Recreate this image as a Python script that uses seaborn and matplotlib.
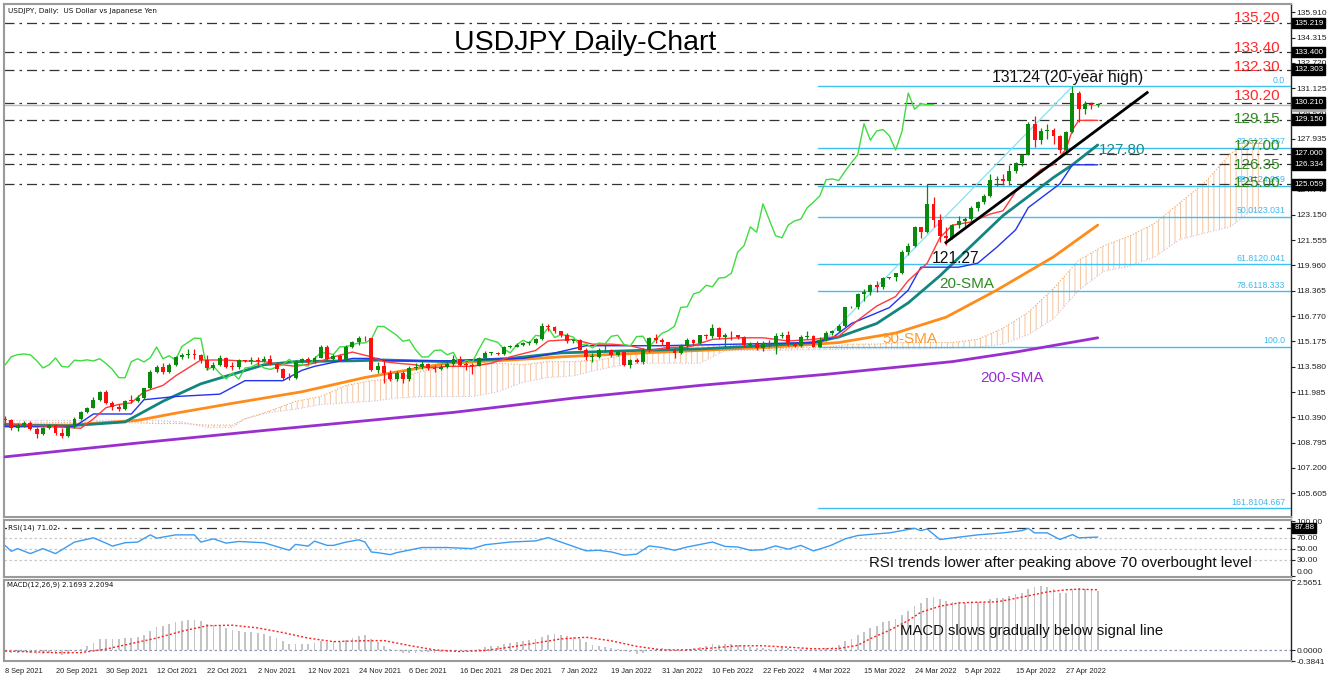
import numpy as np
import matplotlib
matplotlib.use("Agg")
import matplotlib.pyplot as plt
import seaborn as sns
from matplotlib.transforms import blended_transform_factory

# ---------------- data ----------------
x_labels = ["8 Sep 2021", "20 Sep 2021", "30 Sep 2021", "12 Oct 2021", "22 Oct 2021", "2 Nov 2021",
            "12 Nov 2021", "24 Nov 2021", "6 Dec 2021", "16 Dec 2021", "28 Dec 2021", "7 Jan 2022",
            "19 Jan 2022", "31 Jan 2022", "10 Feb 2022", "22 Feb 2022", "4 Mar 2022", "15 Mar 2022",
            "24 Mar 2022", "5 Apr 2022", "15 Apr 2022", "27 Apr 2022"]

opens = [
110.30,110.25,109.70,109.88,110.02,109.68,109.37,109.71,109.93,109.41,
109.22,109.79,110.27,110.73,110.99,111.50,111.96,111.28,111.05,110.92,
111.44,111.42,111.60,112.23,113.27,113.59,113.26,113.68,114.21,114.34,
114.38,114.33,113.97,113.50,113.70,114.13,113.59,113.56,113.99,113.95,
114.01,113.94,114.08,113.78,113.41,112.89,112.88,113.90,114.08,113.88,
114.14,114.82,114.08,114.27,114.00,114.85,115.12,115.38,115.36,113.38,
113.61,113.16,112.81,113.18,112.79,113.50,113.56,113.77,113.50,113.41,
113.56,113.72,114.04,113.71,113.69,113.62,114.10,114.45,114.45,114.35,
114.83,114.84,114.97,115.07,115.08,115.31,116.12,116.11,115.84,115.56,
115.18,115.27,114.65,114.19,114.20,114.60,114.63,114.33,114.48,113.67,
113.98,113.88,114.65,115.36,115.23,115.12,114.68,114.45,114.95,115.24,
115.07,115.55,115.51,116.04,115.42,115.58,115.56,115.44,114.93,115.02,
114.77,115.07,115.03,115.50,115.56,114.98,114.89,115.48,115.50,114.83,
115.28,115.68,115.85,116.13,117.32,117.35,118.16,118.29,118.71,118.61,
119.16,119.20,119.47,120.80,121.20,122.39,122.05,123.84,122.83,121.83,
121.70,122.50,122.76,122.88,123.59,123.95,124.34,125.36,125.41,125.31,
125.90,126.43,126.93,128.89,127.85,128.43,128.52,128.14,127.23,128.39,
130.82,129.80,130.15,130.09]
highs = [
110.45,110.30,110.05,110.15,110.15,109.80,109.80,110.00,109.95,109.70,
109.90,110.40,110.80,111.05,111.70,112.05,112.08,111.40,111.20,111.50,
111.80,111.80,112.25,113.40,113.70,113.80,113.80,114.25,114.45,114.70,
114.70,114.40,114.30,113.90,114.30,114.20,113.90,114.05,114.00,114.20,
114.20,114.25,114.30,113.90,113.50,113.20,114.00,114.15,114.20,114.25,
114.95,114.95,114.40,114.40,114.95,115.20,115.52,115.50,115.40,113.90,
114.05,113.40,113.30,113.30,113.60,113.80,113.95,113.80,113.70,113.75,
113.90,114.30,114.25,113.90,113.80,114.20,114.55,114.50,114.50,114.90,
114.95,115.05,115.15,115.20,115.40,116.35,116.25,116.15,115.85,115.70,
115.35,115.35,114.75,114.45,114.75,114.95,114.70,114.65,114.50,114.05,
114.10,114.75,115.45,115.65,115.40,115.15,114.75,115.00,115.40,115.35,
115.60,115.65,116.30,116.05,115.70,115.80,115.60,115.50,115.15,115.20,
115.20,115.25,115.70,115.75,115.80,115.05,115.55,115.80,115.55,115.45,
115.80,115.90,116.25,117.35,117.40,118.20,118.45,118.80,119.00,119.20,
119.25,119.50,120.95,121.40,122.45,122.40,125.08,124.30,123.20,122.40,
122.60,123.05,123.00,123.70,124.05,124.45,125.75,125.60,125.75,126.30,
126.50,127.00,129.00,129.40,128.60,128.85,128.60,128.20,128.45,131.24,
130.95,130.30,130.25,130.20]
lows = [
109.90,109.60,109.55,109.80,109.60,109.10,109.30,109.65,109.30,109.10,
109.15,109.70,110.20,110.65,110.95,111.40,111.20,110.85,110.80,110.85,
111.30,111.35,111.55,112.20,113.20,113.10,113.20,113.60,114.05,114.15,
114.05,113.80,113.40,113.40,113.60,113.50,113.35,113.45,113.90,113.75,
113.70,113.85,113.70,113.25,112.75,112.75,112.80,113.80,113.75,113.80,
114.10,114.00,113.90,113.95,113.95,114.75,114.95,115.20,113.30,113.20,
112.55,112.70,112.65,112.55,112.70,113.40,113.45,113.40,113.25,113.35,
113.50,113.60,113.60,113.40,113.15,113.60,114.05,114.30,114.30,114.30,
114.75,114.80,114.90,114.95,115.00,115.25,115.85,115.70,115.45,115.05,
115.05,114.60,114.00,113.90,114.15,114.50,114.20,114.25,113.65,113.50,
113.80,113.75,114.50,115.05,114.95,114.60,114.15,114.40,114.85,114.90,
115.00,115.35,115.40,115.30,114.85,115.25,115.30,114.85,114.80,114.65,
114.55,114.85,114.40,115.40,114.90,114.80,114.85,115.35,114.82,114.85,
115.20,115.55,115.75,116.05,117.25,117.20,117.70,118.10,118.30,118.50,
119.10,118.95,119.40,120.60,121.15,121.70,122.00,122.40,121.45,121.27,
121.60,122.30,122.45,122.60,123.40,123.80,124.25,124.95,125.00,125.05,
125.80,126.25,126.90,127.45,127.60,127.90,127.60,127.05,126.95,128.30,
129.00,129.50,129.80,129.95]
closes = [
110.25,109.70,109.88,110.02,109.68,109.37,109.71,109.93,109.41,109.22,
109.79,110.27,110.73,110.99,111.50,111.96,111.28,111.05,110.92,111.44,
111.42,111.60,112.23,113.27,113.59,113.26,113.68,114.21,114.34,114.38,
114.33,113.97,113.50,113.70,114.13,113.59,113.56,113.99,113.95,114.01,
113.94,114.08,113.78,113.41,112.89,112.88,113.90,114.08,113.88,114.14,
114.82,114.08,114.27,114.00,114.85,115.12,115.38,115.36,113.38,113.61,
113.16,112.81,113.18,112.79,113.50,113.56,113.77,113.50,113.41,113.56,
113.72,114.04,113.71,113.69,113.62,114.10,114.45,114.45,114.35,114.83,
114.84,114.97,115.07,115.08,115.31,116.12,116.11,115.84,115.56,115.18,
115.27,114.65,114.19,114.20,114.60,114.63,114.33,114.48,113.67,113.98,
113.88,114.65,115.36,115.23,115.12,114.68,114.45,114.95,115.24,115.07,
115.55,115.51,116.04,115.42,115.58,115.56,115.44,114.93,115.02,114.77,
115.07,115.03,115.50,115.56,114.98,114.89,115.48,115.50,114.83,115.28,
115.68,115.85,116.13,117.32,117.35,118.16,118.29,118.71,118.61,119.16,
119.20,119.47,120.80,121.20,122.39,122.05,123.84,122.83,121.83,121.70,
122.50,122.76,122.88,123.59,123.95,124.34,125.36,125.41,125.31,125.90,
126.43,126.93,128.89,127.85,128.43,128.52,128.14,127.23,128.39,130.82,
129.80,130.15,130.09,130.10]

# indicator lines (bar index, value)
sma20_x = [0, 10, 19, 25, 31, 36, 41, 46, 55, 60, 70, 80, 88, 100, 110, 120, 128, 132, 138, 143, 148, 153, 158, 163, 166, 169, 173]
sma20_y = [109.9, 109.85, 110.1, 111.4, 112.5, 113.1, 113.7, 113.9, 113.95, 114.0, 113.9, 114.1, 114.45, 114.6, 114.7, 114.9, 115.1, 115.45, 116.3, 117.6, 119.3, 121.2, 123.1, 124.6, 125.5, 126.3, 127.55]
sma50_x = [0, 10, 21, 27, 36, 47, 57, 70, 80, 88, 104, 121, 132, 141, 149, 157, 166, 173]
sma50_y = [109.9, 109.9, 110.2, 110.65, 111.27, 112.0, 112.9, 113.8, 114.0, 114.2, 114.5, 114.8, 115.1, 115.7, 116.7, 118.4, 120.5, 122.5]
sma200_x = [0, 21, 42, 63, 71, 90, 110, 130, 150, 160, 173]
sma200_y = [107.9, 108.77, 109.6, 110.4, 110.7, 111.6, 112.4, 113.1, 113.9, 114.5, 115.4]
tenkan_x = [0, 4, 8, 12, 14, 16, 18, 20, 22, 25, 27, 29, 31, 35, 37, 41, 44, 46, 49, 52, 55, 58, 60, 62, 65, 67, 70, 74, 77, 80, 84, 86, 90, 93, 96, 99, 102, 105, 108, 112, 116, 120, 124, 128, 132, 135, 138, 141, 143, 146, 148, 150, 153, 156, 158, 160, 162, 164, 166, 168, 169, 170, 173]
tenkan_y = [110.0, 109.9, 109.8, 109.7, 110.3, 111.0, 111.2, 111.3, 112.0, 112.4, 113.0, 113.5, 114.0, 114.0, 113.95, 113.9, 113.7, 113.6, 113.8, 114.2, 114.5, 114.2, 113.9, 113.8, 113.7, 113.5, 113.6, 113.6, 113.8, 114.2, 114.6, 115.2, 115.3, 115.0, 115.0, 114.9, 114.6, 114.8, 114.8, 115.3, 115.4, 115.4, 115.2, 115.3, 115.5, 116.5, 117.4, 118.0, 119.0, 120.1, 121.7, 122.5, 122.7, 123.2, 123.4, 124.6, 125.3, 126.0, 126.3, 127.3, 128.5, 129.1, 129.1]
kijun_x = [0, 11, 14, 20, 22, 27, 34, 38, 44, 47, 49, 55, 59, 60, 71, 76, 82, 86, 92, 104, 110, 122, 128, 131, 134, 137, 140, 143, 145, 151, 154, 157, 160, 162, 164, 167, 169, 173]
kijun_y = [109.8, 109.8, 110.6, 110.6, 111.5, 111.7, 111.85, 112.7, 112.7, 113.35, 113.6, 114.1, 114.1, 113.95, 113.95, 114.05, 114.1, 114.35, 114.9, 114.9, 114.95, 115.05, 115.1, 115.4, 116.3, 116.8, 117.3, 118.4, 119.85, 119.85, 120.1, 121.1, 122.2, 123.6, 124.2, 125.1, 126.3, 126.3]
cloud_x = [0, 8, 16, 24, 28, 32, 36, 38, 42, 46, 50, 54, 58, 62, 66, 70, 74, 78, 82, 86, 90, 94, 98, 102, 106, 110, 114, 118, 122, 126, 130, 134, 138, 142, 146, 150, 154, 158, 162, 166, 170, 174, 178, 182, 186, 190, 194, 197, 199]
span_a = [110.0, 110.05, 110.1, 110.0, 110.0, 109.9, 109.9, 110.3, 110.8, 111.4, 111.7, 112.4, 112.7, 112.8, 113.3, 113.6, 113.7, 113.8, 113.7, 113.9, 113.9, 114.0, 114.3, 114.5, 114.8, 114.9, 115.0, 114.8, 114.7, 114.8, 114.8, 115.0, 115.0, 115.1, 115.1, 115.1, 115.3, 116.0, 117.0, 118.5, 120.3, 121.2, 121.8, 122.6, 123.9, 125.2, 127.0, 127.7, 127.7]
span_b = [110.2, 110.2, 110.2, 110.2, 110.1, 109.75, 109.75, 110.3, 110.7, 110.9, 111.2, 111.3, 111.4, 111.6, 111.7, 111.7, 111.7, 112.0, 112.6, 112.9, 113.0, 113.4, 113.7, 113.8, 113.8, 113.8, 114.6, 114.6, 114.6, 114.65, 114.65, 114.7, 114.7, 114.7, 114.7, 114.75, 114.8, 115.0, 115.6, 116.6, 118.4, 119.6, 119.9, 120.5, 121.6, 122.0, 122.4, 123.3, 123.4]

rsi_x = [0, 1, 2, 4, 6, 8, 11, 14, 16, 17, 19, 21, 23, 24, 27, 30, 31, 33, 35, 37, 41, 45, 46, 48, 49, 51, 52, 54, 56, 57, 58, 59, 61, 62,
         63, 66, 70, 74, 76, 80, 84, 86, 88, 92, 94, 96, 98, 100, 102, 104, 106, 108, 112, 114, 116, 118, 120, 122, 124,
         126, 128, 130, 131, 133, 135, 138, 140, 142, 144, 145, 146, 148, 151, 154, 158, 161, 162, 163, 165, 167, 169, 170, 173]
rsi_y = [55.9, 45.2, 50, 41, 50, 41, 61.9, 69.6, 60, 54.6, 60.7, 61.9, 75, 68.9, 75, 75, 61.9, 67.8, 60, 63, 60.7, 47, 57.7, 54.6, 63.6, 55.9, 55.9, 61.9, 66, 61.9, 43.9, 42.7, 39.1, 42.7,
         45, 52, 52, 50, 57, 62, 64, 70, 62, 46, 47, 44, 38, 40, 55, 52, 47, 53, 62, 54, 53, 47, 48, 55, 49,
         55.9, 45.8, 53, 57.1, 67.8, 73.8, 76.8, 78.6, 82.7, 86.9, 82.7, 85.7, 66.6, 70.8, 75, 78.6, 82.7, 86.9, 78.6, 78.6, 66.6, 75.5, 69.6, 71.0]

macd_hist = [
-0.05,-0.08,-0.08,-0.07,-0.09,-0.13,-0.12,-0.09,-0.13,-0.17,
-0.12,-0.04,0.06,0.16,0.28,0.40,0.42,0.42,0.40,0.44,
0.46,0.50,0.58,0.72,0.84,0.89,0.95,1.03,1.09,1.12,
1.12,1.07,0.98,0.92,0.90,0.82,0.74,0.71,0.68,0.66,
0.62,0.59,0.53,0.45,0.34,0.24,0.24,0.25,0.24,0.26,
0.33,0.32,0.33,0.31,0.37,0.44,0.51,0.55,0.40,0.29,
0.17,0.05,-0.01,-0.09,-0.09,-0.09,-0.07,-0.07,-0.08,-0.07,
-0.05,0.00,0.01,0.01,0.01,0.05,0.11,0.15,0.17,0.23,
0.27,0.31,0.35,0.37,0.40,0.50,0.57,0.59,0.58,0.53,
0.50,0.41,0.29,0.20,0.16,0.13,0.09,0.07,-0.02,-0.07,
-0.12,-0.09,0.00,0.05,0.08,0.06,0.02,0.03,0.07,0.08,
0.13,0.16,0.22,0.21,0.22,0.22,0.21,0.16,0.13,0.08,
0.08,0.07,0.10,0.13,0.08,0.04,0.05,0.06,0.01,0.03,
0.08,0.13,0.20,0.35,0.42,0.55,0.68,0.80,0.90,1.02,
1.08,1.15,1.30,1.45,1.62,1.72,1.92,1.95,1.88,1.80,
1.78,1.76,1.74,1.76,1.78,1.78,1.86,1.90,1.92,1.98,
2.04,2.10,2.24,2.30,2.33,2.31,2.22,2.10,2.08,2.25,
2.28,2.25,2.20,2.17]
signal_x = [0, 8, 12, 16, 20, 24, 28, 32, 36, 40, 44, 48, 52, 56, 60, 64, 68, 72, 76, 80, 84, 88, 92, 96, 100, 104, 108, 112, 116, 120, 124, 128, 132, 135, 137, 140, 143, 145, 148, 151, 153, 157, 159, 162, 165, 168, 170, 173]
signal_y = [-0.02, -0.08, -0.08, 0.05, 0.25, 0.45, 0.70, 0.90, 0.92, 0.82, 0.65, 0.45, 0.32, 0.35, 0.36, 0.18, 0.02, -0.04, 0.0, 0.12, 0.27, 0.42, 0.48, 0.35, 0.15, 0.02, 0.02, 0.09, 0.17, 0.17, 0.12, 0.06, 0.07, 0.19, 0.43, 0.73, 1.09, 1.39, 1.61, 1.73, 1.75, 1.77, 1.85, 1.99, 2.13, 2.21, 2.23, 2.21]

h_levels = [135.219, 133.40, 132.303, 130.21, 129.15, 127.00, 126.334, 125.059]
h_level_boxes = ["135.219", "133.400", "132.303", "130.210", "129.150", "127.000", "126.334", "125.059"]
level_texts = ["135.20", "133.40", "132.30", "130.20", "129.15", "127.00", "126.35", "125.00"]
level_text_y = [135.55, 133.66, 132.46, 130.64, 129.19, 127.49, 126.29, 125.15]
level_colors = ["#FF2A2A"] * 4 + ["#2E8B22"] * 4
fib_prices = [131.24, 127.367, 124.969, 123.031, 120.041, 118.333, 114.82, 104.667]
fib_labels = ["0.0", "23.6127.367", "38.2124.969", "50.0123.031", "61.8120.041", "78.6118.333", "100.0", "161.8104.667"]
trend_x = [148.8, 181.0]
trend_y = [121.35, 130.9]
fib_diag_x = [128.7, 169.0]
fib_diag_y = [114.82, 131.24]

# ---------------- figure ----------------
sns.set_theme(style="white")
plt.rcParams["font.family"] = ["Liberation Sans", "DejaVu Sans"]
W, H = 1332, 681
fig = plt.figure(figsize=(W / 100, H / 100), dpi=100)
fig.patch.set_facecolor("white")


def ax_px(l, t, r, b):
    return fig.add_axes([l / W, 1 - b / H, (r - l) / W, (b - t) / H])


ax = ax_px(4, 4, 1291, 517)
ax_rsi = ax_px(4, 520, 1291, 577)
ax_macd = ax_px(4, 580, 1291, 661)
XL = (-0.16, 203.6)

o = np.array(opens); h = np.array(highs); l = np.array(lows); c = np.array(closes)
n = len(c)
idx = np.arange(n)
h = np.maximum(h, np.maximum(o, c)); l = np.minimum(l, np.minimum(o, c))
up = c >= o
cols = np.where(up, "#0A8A0A", "#FF1010")

for a in (ax, ax_rsi, ax_macd):
    a.set_xlim(*XL)
    a.set_facecolor("white")
    for s in ("left", "top", "bottom"):
        a.spines[s].set_color("#9A9A9A")
        a.spines[s].set_linewidth(1.5)
    a.spines["right"].set_color("#222222")
    a.spines["right"].set_linewidth(1.0)
    a.yaxis.tick_right()
    a.tick_params(axis="y", direction="out", length=3, width=0.8, colors="#222222", labelsize=6.0, pad=1)
    a.tick_params(axis="x", length=0)
    a.set_xticks([])
    a.grid(False)

ax.set_ylim(104.11, 136.43)
yt = [135.910 - 1.595 * k for k in range(20)]
ax.set_yticks(yt)
# the 126.340 tick label sits completely under the 126.334 level box in the original
ax.set_yticklabels([("" if abs(v - 126.34) < 0.01 else f"{v:.3f}") for v in yt])

tr = blended_transform_factory(ax.transAxes, ax.transData)

# horizontal support / resistance lines
for lv in h_levels:
    ax.axhline(lv, color="#333333", lw=0.9, ls=(0, (8, 4, 2, 4)), zorder=2)
ax.axhline(130.08, color="#BBBBBB", lw=1.0, zorder=1.5)

# Fibonacci
for p, lab in zip(fib_prices, fib_labels):
    ax.plot([128.7, XL[1]], [p, p], color="#3FC0F0", lw=1.0, zorder=2)
    ax.text(0.9955, p + 0.1, lab, transform=tr, ha="right", va="bottom", fontsize=6.3, color="#3FB8F0", zorder=3)
ax.plot(fib_diag_x, fib_diag_y, color="#7FE3F5", lw=0.9, zorder=2)

# Ichimoku cloud
ca = np.array(span_a); cb = np.array(span_b); cx = np.array(cloud_x)
plt.rcParams["hatch.linewidth"] = 0.7
ax.fill_between(cx, ca, cb, where=ca >= cb, interpolate=True, facecolor="none",
                edgecolor="#F6C49C", hatch="|||", linewidth=0, zorder=1)
ax.fill_between(cx, ca, cb, where=ca < cb, interpolate=True, facecolor="none",
                edgecolor="#E3CBE3", hatch="|||", linewidth=0, zorder=1)
ax.plot(cx, ca, color="#F4A460", lw=0.8, ls=":", zorder=1.2)
ax.plot(cx, cb, color="#D8BFD8", lw=0.8, ls=":", zorder=1.2)

# moving averages and ichimoku lines
sns.lineplot(x=sma200_x, y=sma200_y, ax=ax, color="#9A2FD0", lw=2.0, zorder=3, estimator=None, sort=False)
sns.lineplot(x=sma50_x, y=sma50_y, ax=ax, color="#FF8C1A", lw=2.0, zorder=3, estimator=None, sort=False)
sns.lineplot(x=sma20_x, y=sma20_y, ax=ax, color="#13857F", lw=2.0, zorder=3, estimator=None, sort=False)
sns.lineplot(x=kijun_x, y=kijun_y, ax=ax, color="#2233EE", lw=1.0, zorder=3, estimator=None, sort=False)
sns.lineplot(x=tenkan_x, y=tenkan_y, ax=ax, color="#FF3A3A", lw=1.0, zorder=3, estimator=None, sort=False)
sns.lineplot(x=idx[26:] - 26, y=c[26:], ax=ax, color="#3FDC3F", lw=1.0, zorder=3, estimator=None, sort=False)

# candles
ax.vlines(idx, l, h, colors=cols, lw=0.9, zorder=4)
body = np.maximum(np.abs(c - o), 0.04)
ax.bar(idx, body, bottom=np.minimum(o, c), width=0.62, color=cols, linewidth=0, zorder=5)

# trend line
ax.plot(trend_x, trend_y, color="black", lw=2.0, zorder=6, solid_capstyle="butt")

# right-axis level boxes
ax.text(1.0025, 130.02, "129.950", transform=tr, color="white", fontsize=5.8, va="center", ha="left",
        clip_on=False, zorder=9, bbox=dict(boxstyle="square,pad=0.22", fc="#A8A8A8", ec="#A8A8A8"))
for lv, s in zip(h_levels, h_level_boxes):
    ax.text(1.0025, lv, s, transform=tr, color="white", fontsize=5.8, va="center", ha="left",
            clip_on=False, zorder=10, bbox=dict(boxstyle="square,pad=0.22", fc="black", ec="black"))

# annotations
ax.text(0.003, 0.992, "USDJPY, Daily:  US Dollar vs Japanese Yen", transform=ax.transAxes, ha="left", va="top",
        fontsize=5.2, color="#111111", family="DejaVu Sans")
ax.text(91.8, 133.97, "USDJPY Daily-Chart", ha="center", va="center", fontsize=20.5, color="black")
for ty, t, col in zip(level_text_y, level_texts, level_colors):
    ax.text(198.3, ty, t, ha="center", va="center", fontsize=11, color=col, zorder=7)
ax.text(168.2, 131.33, "131.24 (20-year high)", ha="center", va="bottom", fontsize=11.3, color="#111111", zorder=7)
ax.text(150.5, 120.9, "121.27", ha="center", va="top", fontsize=11.3, color="#111111", zorder=7)
ax.text(176.8, 127.23, "127.80", ha="center", va="center", fontsize=11, color="#1C8C8C", zorder=7)
ax.text(152.2, 118.8, "20-SMA", ha="center", va="center", fontsize=11, color="#2E8B22", zorder=7)
ax.text(143.3, 115.33, "50-SMA", ha="center", va="center", fontsize=11, color="#FF9A2A", zorder=7)
ax.text(159.5, 112.86, "200-SMA", ha="center", va="center", fontsize=11, color="#9A2FD0", zorder=7)
ax.set_xlabel(""); ax.set_ylabel("")

# ---------------- RSI ----------------
ax_rsi.set_ylim(-1.5, 102)
for lv in (70, 50, 30):
    ax_rsi.axhline(lv, color="#C8C8C8", lw=0.9, ls=(0, (2, 2)))
ax_rsi.axhline(87.88, color="#333333", lw=0.9, ls=(0, (8, 4, 2, 4)))
sns.lineplot(x=rsi_x, y=rsi_y, ax=ax_rsi, color="#3D9BF0", lw=1.0, estimator=None, sort=False)
ax_rsi.set_yticks([100, 70, 50, 30, 0])
ax_rsi.set_yticklabels(["100.00", "70.00", "50.00", "30.00", "0.00"])
for lab in ax_rsi.get_yticklabels():
    if lab.get_text() == "0.00":
        lab.set_verticalalignment("bottom")
trr = blended_transform_factory(ax_rsi.transAxes, ax_rsi.transData)
ax_rsi.text(1.0025, 87.88, "87.88", transform=trr, color="white", fontsize=5.8, va="center", ha="left",
            clip_on=False, zorder=10, bbox=dict(boxstyle="square,pad=0.22", fc="black", ec="black"))
ax_rsi.text(0.003, 87.88, "RSI(14) 71.02", transform=trr, ha="left", va="center", fontsize=5.2,
            color="#111111", family="DejaVu Sans", bbox=dict(fc="white", ec="none", pad=0.5))
ax_rsi.text(167.1, 24, "RSI trends lower after peaking above 70 overbought level", ha="center", va="center",
            fontsize=10.8, color="#111111")
ax_rsi.set_xlabel(""); ax_rsi.set_ylabel("")

# ---------------- MACD ----------------
ax_macd.set_ylim(-0.3841, 2.5651)
ax_macd.axhline(0, color="#8C96B4", lw=0.9, ls=(0, (2, 2)))
ax_macd.bar(idx, macd_hist, width=0.28, color="#C4C4C4", linewidth=0, zorder=2)
sns.lineplot(x=signal_x, y=signal_y, ax=ax_macd, color="#FF2020", lw=1.0, linestyle=(0, (1.5, 1.5)),
             estimator=None, sort=False, zorder=3)
ax_macd.set_yticks([2.5651, 0.0, -0.3841])
ax_macd.set_yticklabels(["2.5651", "0.0000", "-0.3841"])
ylabs = ax_macd.get_yticklabels()
ylabs[0].set_verticalalignment("top")
ax_macd.text(0.002, 0.985, "MACD(12,26,9) 2.1693 2.2094", transform=ax_macd.transAxes, ha="left", va="top",
             fontsize=5.0, color="#111111", family="DejaVu Sans")
ax_macd.text(162.5, 0.72, "MACD slows gradually below signal line", ha="center", va="center",
             fontsize=10.7, color="#111111")
xt = list(range(0, 169, 8))
ax_macd.set_xticks(xt)
ax_macd.set_xticklabels(x_labels, ha="left")
ax_macd.tick_params(axis="x", direction="out", length=4, width=0.8, colors="#222222", labelsize=5.3, pad=1)
for lab in ax_macd.get_xticklabels():
    lab.set_horizontalalignment("left")
ax_macd.set_xlabel(""); ax_macd.set_ylabel("")

fig.savefig("out.png", dpi=100, facecolor="white")
